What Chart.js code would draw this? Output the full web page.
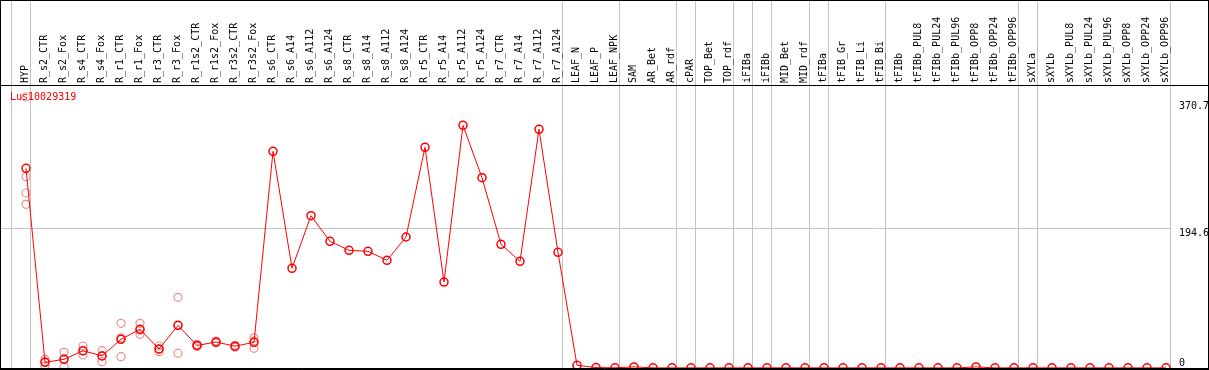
<!DOCTYPE html>
<html>
<head>
<meta charset="utf-8">
<script src="https://cdn.jsdelivr.net/npm/chart.js@4"></script>
<style>
  html, body { margin: 0; padding: 0; background: #fff; }
  #wrap { position: relative; width: 1209px; height: 370px; }
  #c { position: absolute; left: 0; top: 0; }
  #title { position: absolute; left: 10px; top: 92px; color: #ff0000;
           font: 10px/10px "DejaVu Sans Mono", monospace; white-space: nowrap; }
</style>
</head>
<body>
<div id="wrap">
  <canvas id="c" width="1209" height="370"></canvas>
  <div id="title">Lus10029319</div>
</div>
<script>
const categories = [
  "HYP","R_s2_CTR","R_s2_Fox","R_s4_CTR","R_s4_Fox","R_r1_CTR","R_r1_Fox","R_r3_CTR","R_r3_Fox",
  "R_r1s2_CTR","R_r1s2_Fox","R_r3s2_CTR","R_r3s2_Fox",
  "R_s6_CTR","R_s6_A14","R_s6_A112","R_s6_A124","R_s8_CTR","R_s8_A14","R_s8_A112","R_s8_A124",
  "R_r5_CTR","R_r5_A14","R_r5_A112","R_r5_A124","R_r7_CTR","R_r7_A14","R_r7_A112","R_r7_A124",
  "LEAF_N","LEAF_P","LEAF_NPK","SAM","AR_Bet","AR_rdf","cPAR","TOP_Bet","TOP_rdf","iFIBa","iFIBb",
  "MID_Bet","MID_rdf","tFIBa","tFIB_Gr","tFIB_Li","tFIB_Bi","tFIBb","tFIBb_PUL8","tFIBb_PUL24",
  "tFIBb_PUL96","tFIBb_OPP8","tFIBb_OPP24","tFIBb_OPP96","sXYLa","sXYLb","sXYLb_PUL8","sXYLb_PUL24",
  "sXYLb_PUL96","sXYLb_OPP8","sXYLb_OPP24","sXYLb_OPP96"
];

// mean expression per category
const meanValues = [
  277.6, 7.9, 12.1, 24.1, 16.7, 39.9, 53.8, 26.4, 59.3,
  31.3, 36.1, 30.3, 35.7,
  301.2, 138.6, 211.7, 176.1, 163.6, 162.2, 149.7, 182.1,
  306.8, 119.5, 337.4, 264.5, 171.9, 148.3, 331.8, 160.8,
  3.7, 0.6, 0.3, 1.5, 0.2, 0.2, 0.2, 0.2, 0.2, 0.2, 0.2,
  0.2, 0.2, 0.2, 0.2, 0.2, 0.2, 0.2, 0.2, 0.2,
  0.2, 1.5, 0.2, 0.2, 0.2, 0.2, 0.2, 0.2,
  0.2, 0.2, 0.2, 0.2
];

// individual replicates (first 13 categories)
const replicateA = [376.7, 12.1, 21.8, 30.6, 24.1, 62.1, 62.1, 30.6, 98.3, 33.0, 37.5, 31.5, 42.0];
const replicateB = [265.9, 2.8, 1.8, 18.1, 8.8, 15.7, 46.8, 22.7, 20.6, 30.0, 35.0, 29.0, 27.4];
const replicateC = [243.3, 8.8, 12.7, 23.6, 17.2, 41.9, 52.5, 25.9, 59.0, 31.5, 36.0, 30.0, 37.7];
const replicateD = [227.5, null, null, null, null, null, null, null, null, null, null, null, null];

// last category index of each group (group separators)
const groupEnds = [-1, 0, 28, 31, 34, 35, 37, 38, 39, 41, 42, 45, 52, 53, 60];

const yTickLabels = [194.6, 370.7];
const yZeroTick = [0];

const X_MIN = -1.316, X_MAX = 60.263, Y_MAX = 393.4;

const meanData = meanValues.map((v, i) => ({ x: i, y: v }));
const repData = [];
[replicateA, replicateB, replicateC, replicateD].forEach(arr => {
  arr.forEach((v, i) => { if (v !== null) repData.push({ x: i, y: v }); });
});

const FONT = { family: "'DejaVu Sans Mono', monospace", size: 10 };

function noPad(s) {
  s.paddingLeft = 0; s.paddingRight = 0; s.paddingTop = 0; s.paddingBottom = 0;
}

const framePlugin = {
  id: 'frame',
  afterDraw(chart) {
    const { ctx, chartArea, width, height } = chart;
    ctx.save();
    ctx.strokeStyle = '#000';
    ctx.lineWidth = 1;
    ctx.strokeRect(0.5, 0.5, width - 1, height - 1);
    ctx.beginPath();
    ctx.moveTo(0, Math.round(chartArea.top) + 0.5);
    ctx.lineTo(width, Math.round(chartArea.top) + 0.5);
    ctx.moveTo(0, Math.round(chartArea.bottom) + 0.5);
    ctx.lineTo(width, Math.round(chartArea.bottom) + 0.5);
    ctx.stroke();
    ctx.restore();
  }
};

new Chart(document.getElementById('c'), {
  type: 'line',
  data: {
    datasets: [
      {
        data: meanData,
        borderColor: '#ff0000',
        borderWidth: 1,
        tension: 0,
        pointStyle: 'circle',
        pointRadius: 4,
        pointBorderWidth: 1.5,
        pointBorderColor: '#ff0000',
        pointBackgroundColor: 'rgba(0,0,0,0)',
        clip: 0,
        order: 0
      },
      {
        data: repData,
        showLine: false,
        pointStyle: 'circle',
        pointRadius: 4,
        pointBorderWidth: 1.2,
        pointBorderColor: '#ec8e8e',
        pointBackgroundColor: 'rgba(0,0,0,0)',
        clip: 0,
        order: 1
      }
    ]
  },
  options: {
    responsive: false,
    animation: false,
    devicePixelRatio: 1,
    layout: { autoPadding: false, padding: { left: 1, top: 0, right: 0, bottom: 2 } },
    plugins: { legend: { display: false }, tooltip: { enabled: false }, title: { display: false } },
    scales: {
      x: {
        type: 'linear', position: 'top', weight: 1,
        min: X_MIN, max: X_MAX,
        afterBuildTicks: s => { s.ticks = categories.map((c, i) => ({ value: i })); },
        afterFit: s => { s.height = 85; noPad(s); },
        grid: { display: false, drawTicks: false },
        border: { display: false },
        ticks: {
          autoSkip: false, maxRotation: 90, minRotation: 90, padding: 2, labelOffset: 11,
          color: '#000', font: FONT,
          callback: v => categories[v]
        }
      },
      xs: {
        type: 'linear', position: 'top', weight: 0,
        min: X_MIN, max: X_MAX,
        afterBuildTicks: s => { s.ticks = groupEnds.map(g => ({ value: g + 0.25 })); },
        afterFit: s => { s.height = 0; noPad(s); },
        grid: { display: true, color: '#c4c4c4', lineWidth: 1, drawTicks: true, tickLength: 85 },
        border: { display: false },
        ticks: { display: false }
      },
      y: {
        type: 'linear', position: 'right', weight: 1,
        min: 0, max: Y_MAX,
        afterBuildTicks: s => { s.ticks = yTickLabels.map(v => ({ value: v })); },
        afterFit: s => { s.width = 38; noPad(s); },
        grid: {
          drawTicks: false, lineWidth: 1,
          color: c => (c.tick && c.tick.value === 194.6) ? '#c4c4c4' : 'rgba(0,0,0,0)'
        },
        border: { display: false },
        ticks: { align: 'start', padding: 8, color: '#000', font: FONT, callback: v => String(v) }
      },
      y0: {
        type: 'linear', position: 'right', weight: 0,
        min: 0, max: Y_MAX,
        afterBuildTicks: s => { s.ticks = yZeroTick.map(v => ({ value: v })); },
        afterFit: s => { s.width = 0; noPad(s); },
        grid: { display: false, drawTicks: false },
        border: { display: false },
        ticks: { align: 'end', mirror: true, crossAlign: 'near', padding: 14, color: '#000', font: FONT, callback: v => String(v) }
      }
    }
  },
  plugins: [framePlugin]
});
</script>
</body>
</html>
